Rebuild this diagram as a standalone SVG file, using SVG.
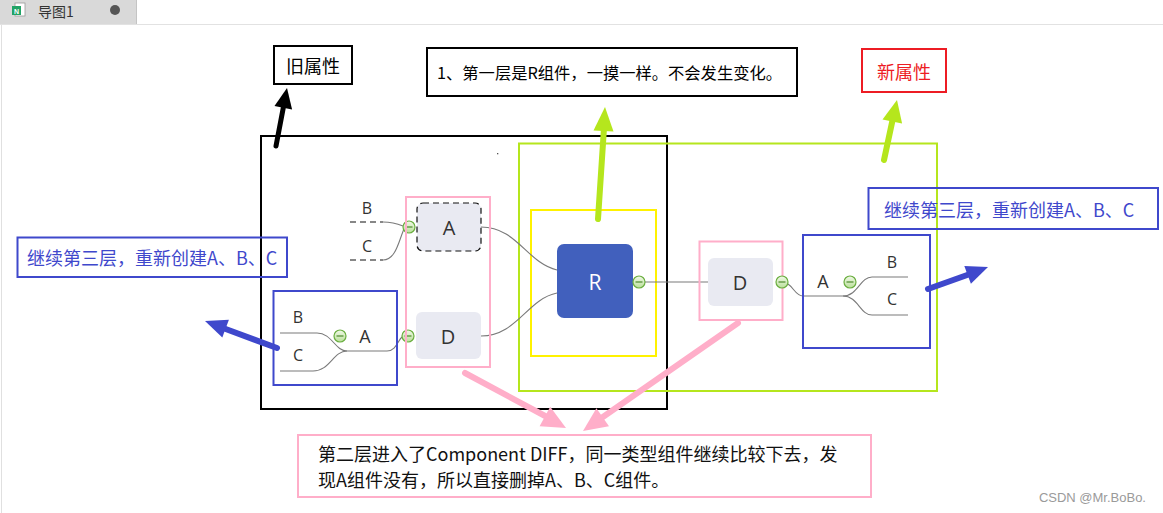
<svg xmlns="http://www.w3.org/2000/svg" width="1163" height="513" viewBox="0 0 1163 513">
<defs>
<linearGradient id="gbtn" x1="0" y1="0" x2="0" y2="1">
<stop offset="0" stop-color="#f1f9e8"/>
<stop offset="1" stop-color="#b9df9a"/>
</linearGradient>
<g id="btn">
<circle r="6" fill="url(#gbtn)" stroke="#6aae3f" stroke-width="1.2"/>
<line x1="-3.5" y1="0" x2="3.5" y2="0" stroke="#4d8a2c" stroke-width="1.2"/>
</g>
</defs>
<style>
.cjk{font-family:"Noto Sans CJK SC","Noto Sans",sans-serif;dominant-baseline:central}
.lat{font-family:"Open Sans","Noto Sans",sans-serif;dominant-baseline:central;text-anchor:middle;fill:#333}
.conn{fill:none;stroke:#7a7a7a;stroke-width:1.1}
.dash{fill:none;stroke:#111;stroke-width:1.1;stroke-dasharray:6,4}
.node{fill:#e9eaf2}
.box{fill:none;stroke-width:2}
.blue{stroke:#3f48cc}
.pink{stroke:#ffaec9}
</style>
<rect x="0" y="0" width="1163" height="513" fill="#ffffff"/>
<!-- tab bar -->
<g id="tabbar">
<rect x="0" y="0" width="1163" height="25" fill="#ffffff"/>
<rect x="0" y="0" width="136" height="24" fill="#d9d9d9"/>
<line x1="136.5" y1="0" x2="136.5" y2="24" stroke="#c4c4c4"/>
<line x1="0" y1="24.5" x2="1163" y2="24.5" stroke="#e2e2e2"/>
<line x1="1.5" y1="25" x2="1.5" y2="513" stroke="#e0e0e0"/>
<rect x="15" y="3" width="10" height="13" fill="#fff" stroke="#9a9a9a" stroke-width="0.8"/>
<rect x="12" y="6" width="9" height="9" fill="#21a366"/>
<text x="16.5" y="11" font-family="Liberation Sans,sans-serif" font-size="7" fill="#fff" text-anchor="middle" dominant-baseline="central" font-weight="bold">N</text>
<text x="38" y="11" class="cjk" font-size="14" fill="#333">导图1</text>
<circle cx="115" cy="10" r="5" fill="#555"/>
</g>

<!-- region frames -->
<g id="old-frame"><rect x="261" y="136" width="406" height="273" class="box" stroke="#000"/></g>
<g id="new-frame"><rect x="519" y="143.5" width="418" height="247.5" class="box" stroke="#b5e61d"/></g>
<g id="r-frame"><rect x="531" y="210" width="125" height="146" class="box" stroke="#fff200"/></g>
<rect x="497" y="153" width="1.3" height="1.3" fill="#555"/>

<!-- connectors -->
<g id="connectors">
<path class="conn" d="M481,227 C517,227 527,263 557,270"/>
<path class="conn" d="M481,336 C517,336 527,299 557,293"/>
<line class="conn" x1="645" y1="282" x2="708" y2="282"/>
<line class="dash" x1="350" y1="222" x2="383" y2="222"/>
<line class="dash" x1="350" y1="260" x2="383" y2="260"/>
<path class="conn" d="M383,222 C393,222 398,224 403,226"/>
<path class="conn" d="M383,260 C396,260 399,240 404,229"/>
<path class="conn" d="M280,333 L317,333 C332,333 335,351 347,351"/>
<path class="conn" d="M280,371 L313,371 C330,371 333,351 347,351"/>
<path class="conn" d="M347,351 L387,351 C396,351 398,340 402,337"/>
<path class="conn" d="M788,284 C794,288 796,296 803,296 L843,296"/>
<path class="conn" d="M843,296 C858,296 860,277 872,277 L908,277"/>
<path class="conn" d="M843,296 C858,296 860,315 872,315 L908,315"/>
</g>

<!-- old tree -->
<g id="node-A-removed">
<rect x="417" y="203" width="64" height="48" rx="6" class="node" stroke="#111" stroke-width="1.2" stroke-dasharray="6,4"/>
<text x="449" y="227" class="lat" font-size="20">A</text>
<use href="#btn" x="409" y="227"/>
</g>
<g id="label-B-removed"><text x="367" y="208" class="lat" font-size="16">B</text></g>
<g id="label-C-removed"><text x="367" y="246" class="lat" font-size="16">C</text></g>
<g id="node-D-left">
<rect x="416" y="312" width="65" height="47" rx="6" class="node"/>
<text x="448" y="336" class="lat" font-size="20">D</text>
<use href="#btn" x="408" y="336"/>
</g>
<g id="pink-frame-left"><rect x="406" y="197" width="84" height="170" class="box pink"/></g>

<g id="left-subtree">
<rect x="273.5" y="291" width="123.5" height="94" class="box blue"/>
<text x="298" y="317" class="lat" font-size="16">B</text>
<text x="298" y="355" class="lat" font-size="16">C</text>
<text x="365" y="336" class="lat" font-size="18">A</text>
<use href="#btn" x="340" y="336"/>
</g>

<!-- R -->
<g id="node-R">
<rect x="557" y="244" width="76" height="74" rx="7" fill="#4160bd"/>
<text x="595" y="282" class="lat" font-size="21" style="fill:#fff">R</text>
<use href="#btn" x="639" y="282"/>
</g>

<!-- new tree -->
<g id="node-D-right">
<rect x="699.5" y="241.5" width="83" height="78.5" class="box pink"/>
<rect x="708" y="258" width="65" height="48" rx="6" class="node"/>
<text x="740" y="282" class="lat" font-size="20">D</text>
<use href="#btn" x="782" y="282"/>
</g>
<g id="right-subtree">
<rect x="803" y="235" width="127" height="113" class="box blue"/>
<text x="823" y="281" class="lat" font-size="18">A</text>
<use href="#btn" x="850" y="282"/>
<text x="892" y="262" class="lat" font-size="16">B</text>
<text x="892" y="299" class="lat" font-size="16">C</text>
</g>

<!-- annotations -->
<g id="old-label">
<rect x="274" y="46" width="78" height="38" class="box" stroke="#000"/>
<text x="313" y="65" class="cjk" font-size="18" text-anchor="middle" fill="#000">旧属性</text>
</g>
<g id="note-top">
<rect x="427" y="48" width="370" height="48" class="box" stroke="#000"/>
<text x="437" y="72" class="cjk" font-size="16.3" fill="#000">1、第一层是R组件，一摸一样。不会发生变化。</text>
</g>
<g id="new-label">
<rect x="862" y="49" width="84" height="43" class="box" stroke="#ed1c24"/>
<text x="904" y="71" class="cjk" font-size="18" text-anchor="middle" fill="#ed1c24">新属性</text>
</g>
<g id="note-left">
<rect x="17.5" y="237.5" width="269.5" height="39.5" class="box blue"/>
<text x="27" y="257" class="cjk" font-size="18" fill="#3f48cc">继续第三层，重新创建A、B、C</text>
</g>
<g id="note-right">
<rect x="868.5" y="188" width="289.5" height="41" class="box blue"/>
<text x="884" y="209" class="cjk" font-size="18" fill="#3f48cc">继续第三层，重新创建A、B、C</text>
</g>
<g id="note-bottom">
<rect x="298" y="435" width="573" height="62" class="box pink"/>
<text x="318" y="453" class="cjk" font-size="18" fill="#111">第二层进入了Component DIFF，同一类型组件继续比较下去，发</text>
<text x="318" y="479" class="cjk" font-size="18" fill="#111">现A组件没有，所以直接删掉A、B、C组件。</text>
</g>

<!-- arrows -->
<g id="arrows" stroke-linecap="round">
<line x1="276" y1="146" x2="284" y2="104" stroke="#000" stroke-width="5"/>
<polygon points="287,88 292.1,109.4 274.5,106" fill="#000"/>
<line x1="598" y1="219" x2="604" y2="128" stroke="#b5e61d" stroke-width="6"/>
<polygon points="605,107 613.5,131.6 593.5,130.4" fill="#b5e61d"/>
<line x1="884" y1="160" x2="893" y2="118" stroke="#b5e61d" stroke-width="6"/>
<polygon points="897,100 902.1,123.6 882.5,119.4" fill="#b5e61d"/>
<line x1="928" y1="289" x2="970" y2="274" stroke="#3f48cc" stroke-width="6"/>
<polygon points="988,267 970.9,283.8 964.3,266" fill="#3f48cc"/>
<line x1="277" y1="348" x2="223" y2="328" stroke="#3f48cc" stroke-width="6"/>
<polygon points="205,321 228.9,319.8 222.3,337.6" fill="#3f48cc"/>
<line x1="465" y1="373" x2="547" y2="417" stroke="#ffaec9" stroke-width="6"/>
<polygon points="566,428 539.6,426.2 550.2,406.8" fill="#ffaec9"/>
<line x1="738" y1="323" x2="600" y2="419" stroke="#ffaec9" stroke-width="6"/>
<polygon points="583,431 609,426.3 596.4,408.3" fill="#ffaec9"/>
</g>

<text x="1146" y="497" font-family="Liberation Sans,sans-serif" font-size="13" fill="#9a9a9a" text-anchor="end" dominant-baseline="central">CSDN @Mr.BoBo.</text>
</svg>
